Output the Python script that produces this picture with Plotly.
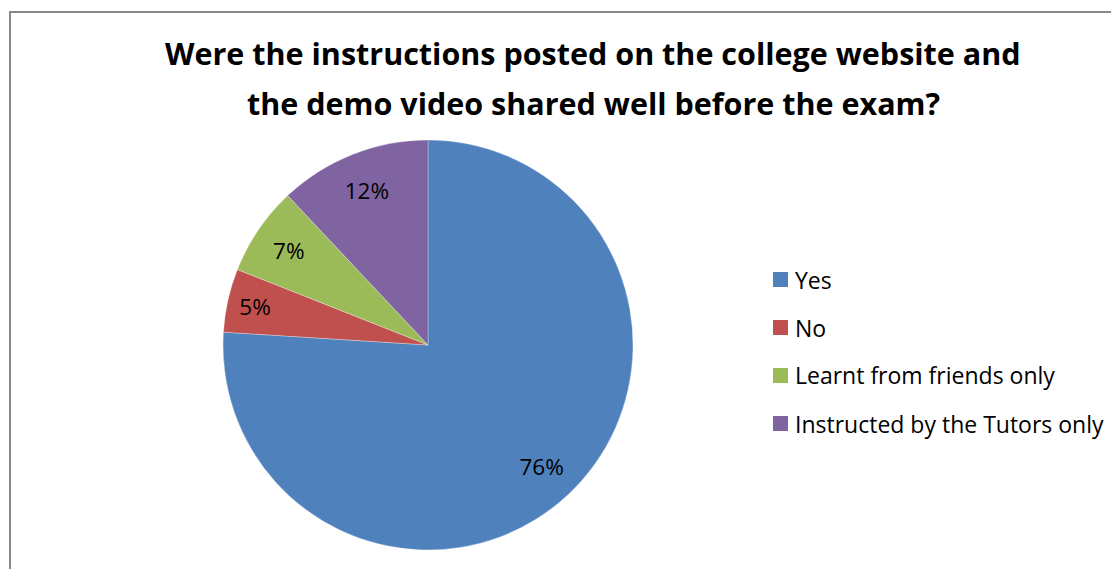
import plotly.graph_objects as go

labels = ["Yes", "No", "Learnt from friends only", "Instructed by the Tutors only"]
values = [76, 5, 7, 12]
colors = ["#4F81BD", "#C0504D", "#9BBB59", "#8064A2"]
title_lines = ["Were the instructions posted on the college website and",
               "the demo video shared well before the exam?"]

W, H = 1119, 569
OFF = 8  # page body margin
FONT = "Open Sans"

cx, cy, R = 428 - OFF, 345 - OFF, 205
dom = dict(x=[(cx - R) / W, (cx + R) / W], y=[(H - cy - R) / H, (H - cy + R) / H])

fig = go.Figure()
fig.add_trace(go.Pie(
    labels=labels, values=values, sort=False, direction="clockwise", rotation=0,
    marker=dict(colors=colors, line=dict(color="rgba(255,255,255,0.6)", width=0.5)),
    textinfo="none", domain=dom, showlegend=False, hoverinfo="label+percent",
))
# transparent ring that carries the percentage labels further out
fig.add_trace(go.Pie(
    labels=labels, values=values, sort=False, direction="clockwise", rotation=0,
    hole=0.62,
    marker=dict(colors=["rgba(0,0,0,0)"] * len(values), line=dict(width=0)),
    textinfo="percent", texttemplate="%{percent:.0%}",
    textposition="inside", insidetextorientation="horizontal",
    textfont=dict(family=FONT, size=22.5, color="black"),
    domain=dom, showlegend=False, hoverinfo="skip",
))

def py(y):
    return 1 - (y - OFF) / H

def px(x):
    return (x - OFF) / W

shapes = [dict(type="rect", xref="paper", yref="paper",
               x0=px(10), x1=1.05, y0=-0.05, y1=py(12),
               line=dict(color="#888888", width=2), fillcolor="rgba(0,0,0,0)")]
annotations = []
for i, line in enumerate(title_lines):
    annotations.append(dict(text=line, xref="paper", yref="paper",
                            x=px(593), y=py(53 + 50 * i), xanchor="center", yanchor="middle",
                            showarrow=False,
                            font=dict(family=FONT, size=30.5, color="black", weight="bold")))

for i, (lab, col) in enumerate(zip(labels, colors)):
    yc = 279.5 + 48 * i
    shapes.append(dict(type="rect", xref="paper", yref="paper",
                       x0=px(773), x1=px(788), y0=py(yc + 7.5), y1=py(yc - 7.5),
                       fillcolor=col, line=dict(width=0)))
    annotations.append(dict(text=lab, xref="paper", yref="paper", x=px(793), y=py(yc),
                            xanchor="left", yanchor="middle", showarrow=False,
                            font=dict(family=FONT, size=23, color="black")))

fig.update_layout(width=W, height=H, margin=dict(l=0, r=0, t=0, b=0),
                  paper_bgcolor="white", plot_bgcolor="white",
                  shapes=shapes, annotations=annotations)
fig.write_html("out.html")
